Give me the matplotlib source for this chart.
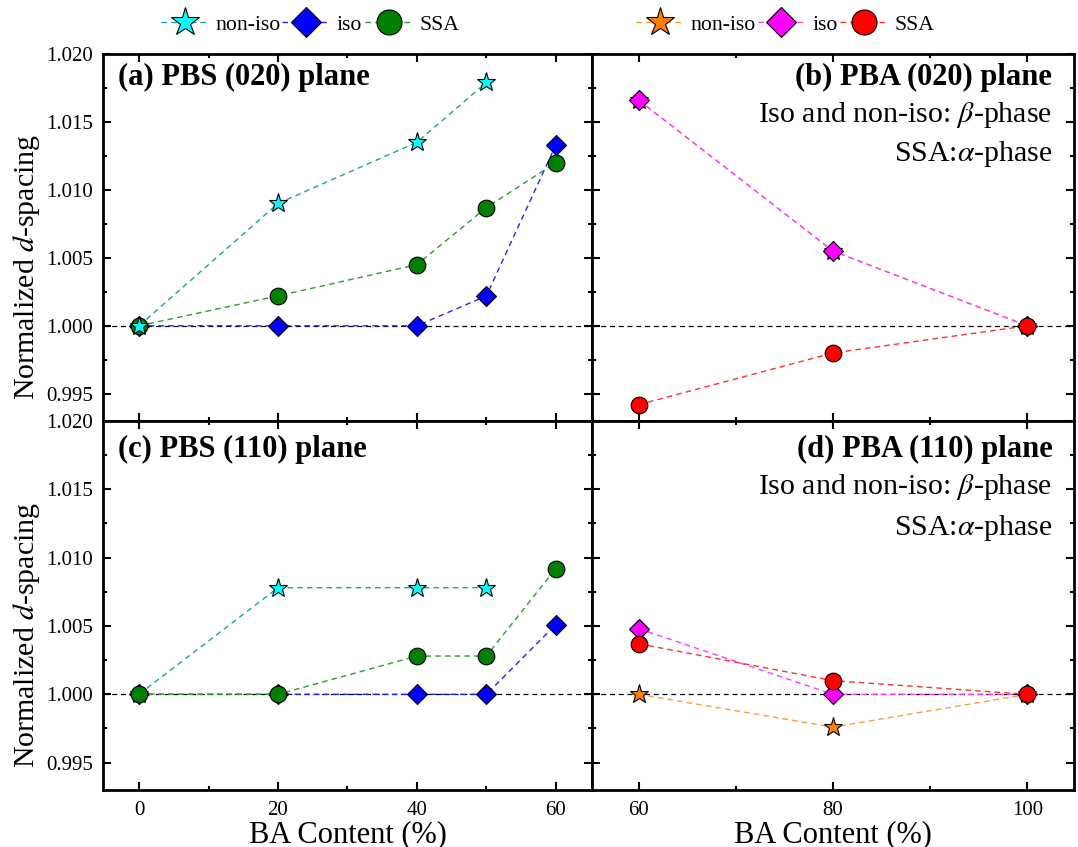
import numpy as np
import matplotlib
matplotlib.use("Agg")
import matplotlib.pyplot as plt
from matplotlib.ticker import MultipleLocator, FormatStrFormatter
from matplotlib.lines import Line2D

plt.rcParams['font.family'] = ['Liberation Serif', 'DejaVu Serif']
plt.rcParams['mathtext.fontset'] = 'stix'

# PBS side: BA content 0-60 %
pbs_x = [0, 20, 40, 50, 60]
pbs_noniso_x = [0, 20, 40, 50]
pbs020_noniso = [1.0000, 1.0090, 1.0135, 1.0179]
pbs020_iso = [1.0000, 1.0000, 1.0000, 1.0022, 1.0133]
pbs020_ssa = [1.0000, 1.0022, 1.0045, 1.0087, 1.0120]
pbs110_noniso = [1.0000, 1.0078, 1.0078, 1.0078]
pbs110_iso = [1.0000, 1.0000, 1.0000, 1.0000, 1.0051]
pbs110_ssa = [1.0000, 1.0000, 1.0028, 1.0028, 1.0092]

# PBA side: BA content 60-100 %
pba_x = [60, 80, 100]
pba020_noniso = [1.0166, 1.0055, 1.0000]
pba020_iso = [1.0166, 1.0055, 1.0000]
pba020_ssa = [0.9942, 0.9980, 1.0000]
pba110_noniso = [1.0000, 0.9976, 1.0000]
pba110_iso = [1.0048, 1.0000, 1.0000]
pba110_ssa = [1.0037, 1.0010, 1.0000]

labels = ['non-iso', 'iso', 'SSA']

pbs_style = {
    'non-iso': dict(marker='*', ms=14, mfc='#00ffff', color='#1f9f9f'),
    'iso': dict(marker='D', ms=10, mfc='#0000ff', color='#2222ff'),
    'SSA': dict(marker='o', ms=12, mfc='#007f00', color='#2f9a2f'),
}
pba_style = {
    'non-iso': dict(marker='*', ms=14, mfc='#ff8000', color='#ff9a3a'),
    'iso': dict(marker='D', ms=10, mfc='#ff00ff', color='#ff3cff'),
    'SSA': dict(marker='o', ms=12, mfc='#ff0000', color='#ff3030'),
}
dash = (0, (4, 3))

fig = plt.figure(figsize=(10.78, 8.47), dpi=100)
lx, rx = 0.0955, 0.5492
lw_, rw_ = 0.4536, 0.4471
ax_a = fig.add_axes([lx, 0.5030, lw_, 0.4333])
ax_b = fig.add_axes([rx, 0.5030, rw_, 0.4333])
ax_c = fig.add_axes([lx, 0.0673, lw_, 0.4357])
ax_d = fig.add_axes([rx, 0.0673, rw_, 0.4357])


def draw(ax, style, series, order):
    ax.axhline(1.0, color='black', lw=0.9, ls=dash, zorder=1)
    for name in order:
        xs, ys = series[name]
        st = style[name]
        ax.plot(xs, ys, ls=dash, lw=1.0, color=st['color'], marker=st['marker'],
                ms=st['ms'], mfc=st['mfc'], mec='black', mew=0.8, zorder=3)


def setup(ax, xlim, xmajor, show_x, show_y):
    ax.set_xlim(*xlim)
    ax.set_ylim(0.993, 1.020)
    ax.xaxis.set_major_locator(MultipleLocator(xmajor))
    ax.xaxis.set_minor_locator(MultipleLocator(xmajor / 2))
    ax.yaxis.set_major_locator(MultipleLocator(0.005))
    ax.yaxis.set_minor_locator(MultipleLocator(0.0025))
    ax.yaxis.set_major_formatter(FormatStrFormatter('%.3f'))
    ax.tick_params(which='both', direction='in', top=True, right=True,
                   labelsize=15, width=1.5)
    ax.tick_params(which='major', length=6)
    ax.tick_params(which='minor', length=3)
    ax.tick_params(axis='y', pad=7)
    ax.tick_params(axis='x', pad=8)
    for s in ax.spines.values():
        s.set_linewidth(2)
    if not show_x:
        ax.tick_params(labelbottom=False)
    else:
        ax.set_xlabel('BA Content (%)', fontsize=22, labelpad=0)
    if not show_y:
        ax.tick_params(labelleft=False)
    else:
        ax.set_ylabel('Normalized $d$-spacing', fontsize=21.5)
        ax.yaxis.set_label_coords(-0.125, 0.42)


draw(ax_a, pbs_style, {'non-iso': (pbs_noniso_x, pbs020_noniso),
                       'iso': (pbs_x, pbs020_iso),
                       'SSA': (pbs_x, pbs020_ssa)}, ['iso', 'SSA', 'non-iso'])
draw(ax_c, pbs_style, {'non-iso': (pbs_noniso_x, pbs110_noniso),
                       'iso': (pbs_x, pbs110_iso),
                       'SSA': (pbs_x, pbs110_ssa)}, labels)
draw(ax_b, pba_style, {'non-iso': (pba_x, pba020_noniso),
                       'iso': (pba_x, pba020_iso),
                       'SSA': (pba_x, pba020_ssa)}, labels)
draw(ax_d, pba_style, {'non-iso': (pba_x, pba110_noniso),
                       'iso': (pba_x, pba110_iso),
                       'SSA': (pba_x, pba110_ssa)}, labels)

setup(ax_a, (-5.2, 65.2), 20, False, True)
setup(ax_c, (-5.2, 65.2), 20, True, True)
setup(ax_b, (55.2, 104.8), 20, False, False)
setup(ax_d, (55.2, 104.8), 20, True, False)

ax_a.text(0.03, 0.937, '(a) PBS (020) plane', transform=ax_a.transAxes,
          fontsize=22, fontweight='bold', ha='left', va='center')
ax_c.text(0.03, 0.924, '(c) PBS (110) plane', transform=ax_c.transAxes,
          fontsize=22, fontweight='bold', ha='left', va='center')
for ax, ys in ((ax_b, (0.937, 0.834, 0.728)), (ax_d, (0.924, 0.820, 0.711))):
    title = '(b) PBA (020) plane' if ax is ax_b else '(d) PBA (110) plane'
    ax.text(0.955, ys[0], title, transform=ax.transAxes,
            fontsize=22, fontweight='bold', ha='right', va='center')
    ax.text(0.955, ys[1], r'Iso and non-iso: $\beta$-phase', transform=ax.transAxes,
            fontsize=21.5, ha='right', va='center')
    ax.text(0.955, ys[2], r'SSA:$\alpha$-phase', transform=ax.transAxes,
            fontsize=21.5, ha='right', va='center')


def legend_handles(style):
    return [Line2D([], [], ls=dash, lw=1.0, color=style[n]['color'],
                   marker=style[n]['marker'], ms=style[n]['ms'],
                   mfc=style[n]['mfc'], mec='black', mew=0.8) for n in labels]


for ax, style, cx in ((ax_a, pbs_style, 0.423), (ax_b, pba_style, 0.40)):
    ax.legend(legend_handles(style), labels, loc='center', ncol=3,
              bbox_to_anchor=(cx, 1.079), frameon=False, fontsize=15.7,
              markerscale=1.5, handlelength=2.2, handletextpad=0.3,
              columnspacing=0.1, borderaxespad=0)

fig.savefig('out.png', dpi=100)
